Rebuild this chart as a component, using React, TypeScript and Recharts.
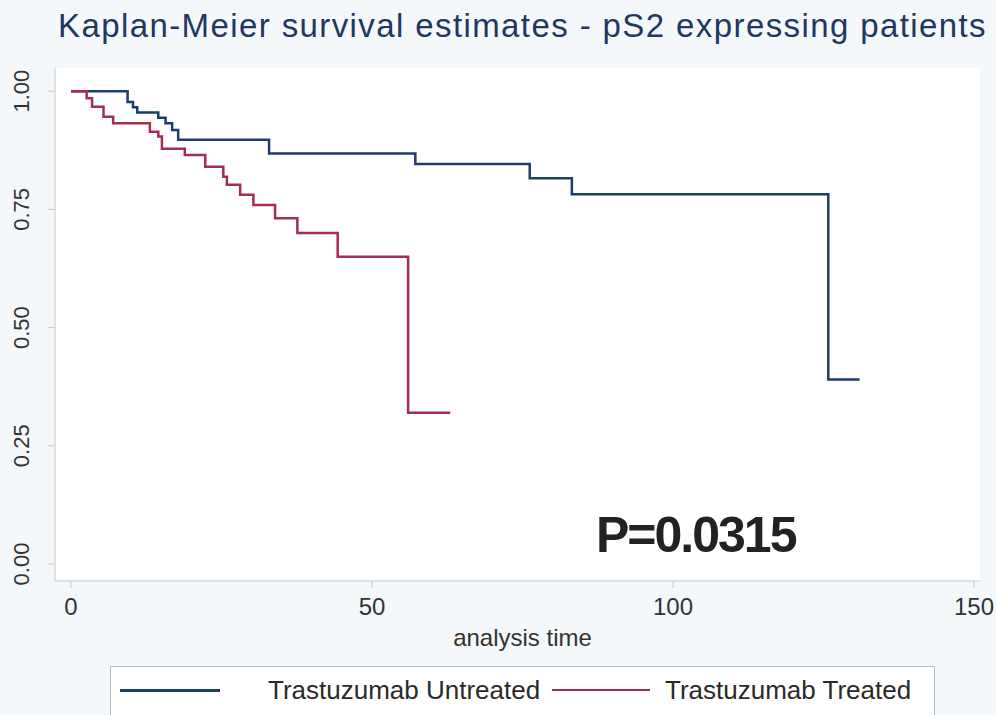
import React from 'react';
import { LineChart, Line, XAxis, YAxis, CartesianGrid, Legend, Label } from 'recharts';

// Kaplan-Meier step points: time, survival
const untreatedTimes = [0, 9.4, 10.3, 11.0, 14.5, 15.7, 16.8, 17.8, 32.9, 57.2, 76.2, 83.2, 125.8, 131];
const untreatedSurv = [1.0, 0.977, 0.966, 0.955, 0.944, 0.932, 0.918, 0.897, 0.868, 0.846, 0.816, 0.782, 0.39, 0.39];

const treatedTimes = [0, 2.6, 3.5, 5.4, 7.0, 13.1, 14.5, 15.1, 18.9, 22.3, 25.3, 25.9, 28.1, 30.3, 33.9, 37.6, 44.3, 56.0, 63.0];
const treatedSurv = [1.0, 0.985, 0.967, 0.946, 0.932, 0.914, 0.904, 0.878, 0.865, 0.84, 0.819, 0.802, 0.781, 0.759, 0.731, 0.7, 0.65, 0.32, 0.32];

const xTicks = [0, 50, 100, 150];
const yTicks = [0, 0.25, 0.5, 0.75, 1.0];

const seriesNames = ['Trastuzumab Untreated', 'Trastuzumab Treated'];
const BLUE = '#1d3d6b';
const RED = '#a32f4c';
const FONT = '"Liberation Sans", Arial, sans-serif';

const toRows = (ts: number[], ss: number[]) => ts.map((t, i) => ({ t, s: ss[i] }));
const untreated = toRows(untreatedTimes, untreatedSurv);
const treated = toRows(treatedTimes, treatedSurv);

const YTick = (props: any) => {
  const { y, payload } = props;
  const cx = 21;
  return (
    <text
      x={cx}
      y={y}
      dy="0.36em"
      textAnchor="middle"
      transform={`rotate(-90, ${cx}, ${y})`}
      fill="#333"
      fontSize={22}
      fontFamily={FONT}
    >
      {payload.value.toFixed(2)}
    </text>
  );
};

const KmLegend = () => (
  <div
    style={{
      position: 'relative',
      width: 823,
      height: 60,
      border: '1px solid #b9bcc0',
      background: '#fff',
      fontFamily: FONT,
      fontSize: 26,
      color: '#2a2a2a',
    }}
  >
    <div style={{ position: 'absolute', left: 9, top: 22, width: 100, height: 3, background: BLUE }} />
    <div style={{ position: 'absolute', left: 157, top: 8, whiteSpace: 'nowrap' }}>{seriesNames[0]}</div>
    <div style={{ position: 'absolute', left: 441, top: 22, width: 98, height: 2, background: RED }} />
    <div style={{ position: 'absolute', left: 554, top: 8, whiteSpace: 'nowrap' }}>{seriesNames[1]}</div>
  </div>
);

export default function App() {
  return (
    <div style={{ position: 'absolute', left: 0, top: 0, width: 996, height: 715, background: '#f4f8fa', overflow: 'hidden' }}>
      <div
        style={{
          position: 'absolute',
          left: 0,
          top: 7,
          width: 996,
          paddingLeft: 58,
          textAlign: 'left',
          fontFamily: FONT,
          fontSize: 33,
          letterSpacing: 1.4,
          color: '#1f3862',
          whiteSpace: 'nowrap',
        }}
      >
        Kaplan-Meier survival estimates - pS2 expressing patients
      </div>
      <LineChart width={996} height={715} margin={{ top: 68, right: 16, left: 0, bottom: 64 }}>
        <CartesianGrid horizontal={false} vertical={false} fill="#ffffff" />
        <XAxis
          type="number"
          dataKey="t"
          domain={[-2.66, 151]}
          ticks={xTicks}
          allowDataOverflow
          height={70}
          tickSize={7}
          tickMargin={10}
          stroke="#c4c8cc"
          tick={{ fill: '#333', fontSize: 24, fontFamily: FONT }}
        >
          <Label value="analysis time" position="insideBottom" offset={5} dx={5} fill="#333" fontSize={24} fontFamily={FONT} />
        </XAxis>
        <YAxis
          type="number"
          domain={[-0.036, 1.049]}
          ticks={yTicks}
          allowDataOverflow
          width={55}
          tickSize={7}
          stroke="#c4c8cc"
          tick={<YTick />}
        />
        <Legend verticalAlign="middle" align="center" wrapperStyle={{ left: 110, top: 666, width: 823 }} content={<KmLegend />} />
        <Line
          data={untreated}
          dataKey="s"
          name={seriesNames[0]}
          type="stepAfter"
          stroke={BLUE}
          strokeWidth={2.5}
          dot={false}
          isAnimationActive={false}
        />
        <Line
          data={treated}
          dataKey="s"
          name={seriesNames[1]}
          type="stepAfter"
          stroke={RED}
          strokeWidth={2.5}
          dot={false}
          isAnimationActive={false}
        />
      </LineChart>
      <div
        style={{
          position: 'absolute',
          left: 596,
          top: 506,
          fontFamily: FONT,
          fontWeight: 'bold',
          fontSize: 50,
          letterSpacing: -2,
          color: '#222',
          whiteSpace: 'nowrap',
        }}
      >
        P=0.0315
      </div>
    </div>
  );
}
